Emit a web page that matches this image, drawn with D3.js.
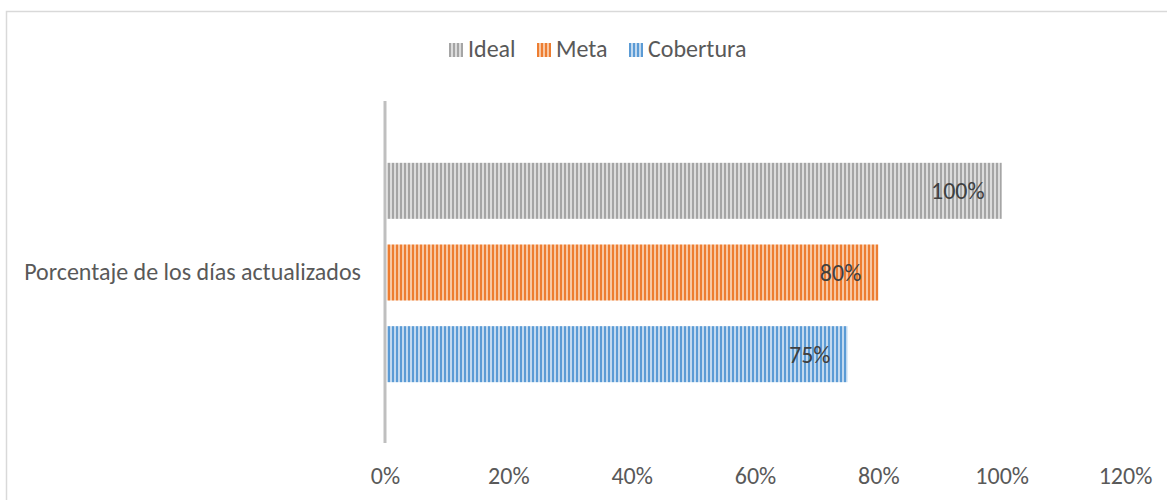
<!DOCTYPE html>
<html><head><meta charset="utf-8">
<script src="https://cdn.jsdelivr.net/npm/d3@7"></script>
<style>body{margin:0;background:#fff;}svg{display:block;}</style>
</head><body>
<svg id="c" width="1167" height="500"></svg>
<script>
const categories = ["Porcentaje de los días actualizados"];
const seriesNames = ["Ideal", "Meta", "Cobertura"];
const seriesValues = [1.00, 0.80, 0.75];
const tickValues = [0, 0.2, 0.4, 0.6, 0.8, 1.0, 1.2];
const seriesColors = [["#a5a5a5", "#dcdcdc"], ["#ed7d31", "#f7c7a3"], ["#5b9bd5", "#c2d9ef"]];

const svg = d3.select("#c");
const font = "Calibri, Carlito, 'Open Sans', sans-serif";
const defs = svg.append("defs");
seriesColors.forEach((c, i) => {
  const p = defs.append("pattern").attr("id", "pat" + i).attr("patternUnits", "userSpaceOnUse")
    .attr("width", 4).attr("height", 4);
  p.append("rect").attr("width", 4).attr("height", 4).attr("fill", c[1]);
  p.append("rect").attr("width", 2).attr("height", 4).attr("fill", c[0]);
});

// chart border
svg.append("rect").attr("x", 6.5).attr("y", 11.5).attr("width", 1180).attr("height", 520)
  .attr("fill", "none").attr("stroke", "#d9d9d9").attr("stroke-width", 1.5);

const x = d3.scaleLinear().domain([0, 1.2]).range([385, 1125]);
const yCat = d3.scaleBand().domain(categories).range([101, 443]);
const ySer = d3.scaleBand().domain(seriesNames).range([150, 395]).paddingInner(0.314).paddingOuter(0.157);

// bars
svg.append("g").selectAll("rect").data(seriesNames).join("rect")
  .attr("x", x(0) + 2)
  .attr("y", d => ySer(d))
  .attr("width", (d, i) => x(seriesValues[i]) - x(0) - 2)
  .attr("height", ySer.bandwidth())
  .attr("fill", (d, i) => `url(#pat${i})`);

// data labels
svg.append("g").selectAll("text").data(seriesNames).join("text")
  .attr("x", (d, i) => x(seriesValues[i]) - 17)
  .attr("y", d => ySer(d) + ySer.bandwidth() / 2)
  .attr("dy", "0.35em")
  .attr("text-anchor", "end")
  .attr("font-family", font).attr("font-size", 24).attr("fill", "#404040")
  .text((d, i) => d3.format(".0%")(seriesValues[i]));

// y axis line
svg.append("line").attr("x1", x(0)).attr("x2", x(0)).attr("y1", 101).attr("y2", 443)
  .attr("stroke", "#bfbfbf").attr("stroke-width", 3);

// category label
svg.append("g").selectAll("text").data(categories).join("text")
  .attr("x", 361).attr("y", d => yCat(d) + yCat.bandwidth() / 2).attr("dy", "0.35em")
  .attr("text-anchor", "end").attr("font-family", font).attr("font-size", 24).attr("fill", "#595959")
  .text(d => d);

// x axis labels
const xAxis = d3.axisBottom(x).tickValues(tickValues).tickFormat(d3.format(".0%")).tickSize(0).tickPadding(0);
const gx = svg.append("g").attr("transform", "translate(0,467)").call(xAxis);
gx.select(".domain").remove();
gx.selectAll("text").attr("font-family", font).attr("font-size", 24).attr("fill", "#595959");

// legend
const legendX = [449, 537, 629];
const lg = svg.append("g").selectAll("g").data(seriesNames).join("g")
  .attr("transform", (d, i) => `translate(${legendX[i]},43)`);
lg.append("rect").attr("width", 14).attr("height", 14).attr("fill", (d, i) => `url(#pat${i})`);
lg.append("text").attr("x", 19).attr("y", 14)
  .attr("font-family", font).attr("font-size", 24).attr("fill", "#595959").text(d => d);
</script>
</body></html>
